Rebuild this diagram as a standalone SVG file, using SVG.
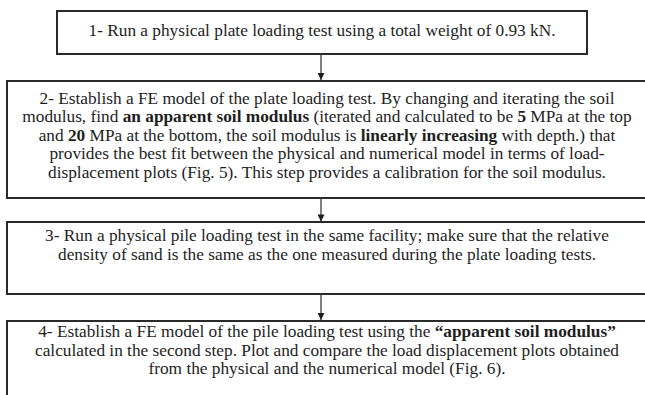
<svg xmlns="http://www.w3.org/2000/svg" width="645" height="395" viewBox="0 0 645 395">
  <style>
    .box { fill: #ffffff; stroke: #2a2a2a; stroke-width: 2; }
    .link { stroke: #2a2a2a; stroke-width: 1.2; fill: none; }
    .txt { font-family: "Liberation Serif", "Times New Roman", serif; font-size: 17.3px; fill: #1e1e1e; text-anchor: middle; }
    .b { font-weight: bold; }
  </style>
  <defs>
    <marker id="arrowhead" viewBox="0 0 10 10" refX="10" refY="5" markerWidth="8" markerHeight="7" markerUnits="userSpaceOnUse" orient="auto">
      <path d="M0,0 L10,5 L0,10 Z" fill="#1e1e1e"/>
    </marker>
  </defs>
  <rect width="645" height="395" fill="#ffffff"/>

  <g id="connectors">
    <line class="link" x1="321" y1="54" x2="321" y2="80" marker-end="url(#arrowhead)"/>
    <line class="link" x1="321" y1="198" x2="321" y2="221.5" marker-end="url(#arrowhead)"/>
    <line class="link" x1="321" y1="294" x2="321" y2="320" marker-end="url(#arrowhead)"/>
  </g>

  <g id="step1">
    <rect class="box" x="57" y="11" width="530" height="43"/>
    <text class="txt" x="322" y="35.5">1- Run a physical plate loading test using a total weight of 0.93 kN.</text>
  </g>

  <g id="step2">
    <rect class="box" x="7" y="81" width="641" height="117"/>
    <text class="txt" x="327" y="103.5">2- Establish a FE model of the plate loading test. By changing and iterating the soil</text>
    <text class="txt" x="327" y="122">modulus, find <tspan class="b">an apparent soil modulus</tspan> (iterated and calculated to be <tspan class="b">5</tspan> MPa at the top</text>
    <text class="txt" x="327" y="140.5">and <tspan class="b">20</tspan> MPa at the bottom, the soil modulus is <tspan class="b">linearly increasing</tspan> with depth.) that</text>
    <text class="txt" x="327" y="159">provides the best fit between the physical and numerical model in terms of load-</text>
    <text class="txt" x="327" y="177.5">displacement plots (Fig. 5). This step provides a calibration for the soil modulus.</text>
  </g>

  <g id="step3">
    <rect class="box" x="7" y="222" width="641" height="72"/>
    <text class="txt" x="327" y="241">3- Run a physical pile loading test in the same facility; make sure that the relative</text>
    <text class="txt" x="327" y="259.5">density of sand is the same as the one measured during the plate loading tests.</text>
  </g>

  <g id="step4">
    <rect class="box" x="7" y="321" width="641" height="84"/>
    <text class="txt" x="327" y="337">4- Establish a FE model of the pile loading test using the <tspan class="b">“apparent soil modulus”</tspan></text>
    <text class="txt" x="327" y="355.5">calculated in the second step. Plot and compare the load displacement plots obtained</text>
    <text class="txt" x="327" y="374">from the physical and the numerical model (Fig. 6).</text>
  </g>
</svg>
